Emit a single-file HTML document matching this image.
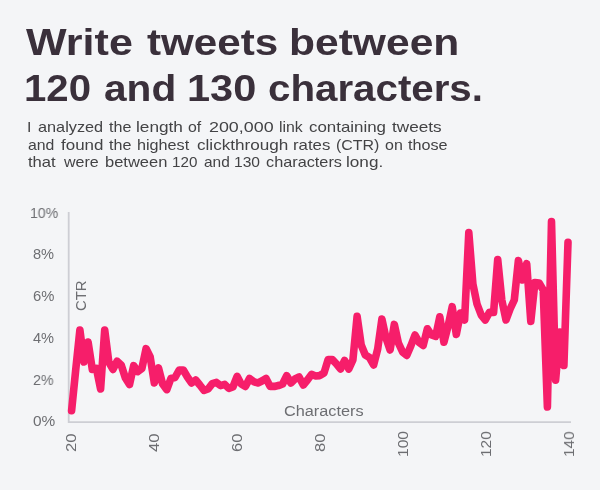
<!DOCTYPE html>
<html>
<head>
<meta charset="utf-8">
<title>Write tweets between 120 and 130 characters</title>
<style>
html,body{margin:0;padding:0;}
body{width:600px;height:490px;background:#f4f5f7;overflow:hidden;position:relative;font-family:"Liberation Sans",sans-serif;}
.t{position:absolute;white-space:nowrap;line-height:1;transform-origin:0 0;will-change:transform;}
.h{font-weight:bold;font-size:36px;color:#3a303b;}
.s{font-size:15px;color:#434345;}
.yl{color:#6d6e72;}
svg{position:absolute;left:0;top:0;}
</style>
</head>
<body>
<div class="t h" style="left:25.60px;top:25.13px;transform:scaleX(1.1955)">Write</div>
<div class="t h" style="left:146.60px;top:25.13px;transform:scaleX(1.1709)">tweets</div>
<div class="t h" style="left:289.04px;top:25.13px;transform:scaleX(1.1825)">between</div>
<div class="t h" style="left:24.17px;top:70.93px;transform:scaleX(1.1149)">120</div>
<div class="t h" style="left:104.07px;top:70.93px;transform:scaleX(1.1277)">and</div>
<div class="t h" style="left:186.89px;top:70.93px;transform:scaleX(1.1535)">130</div>
<div class="t h" style="left:268.28px;top:70.93px;transform:scaleX(1.1188)">characters.</div>
<div class="t s" style="left:27.29px;top:118.90px;transform:scaleX(1.0562)">I</div>
<div class="t s" style="left:37.60px;top:118.90px;transform:scaleX(1.0854)">analyzed</div>
<div class="t s" style="left:109.00px;top:118.90px;transform:scaleX(1.0727)">the</div>
<div class="t s" style="left:136.45px;top:118.90px;transform:scaleX(1.1486)">length</div>
<div class="t s" style="left:188.35px;top:118.90px;transform:scaleX(1.0562)">of</div>
<div class="t s" style="left:208.61px;top:118.90px;transform:scaleX(1.1910)">200,000</div>
<div class="t s" style="left:278.82px;top:118.90px;transform:scaleX(1.0562)">link</div>
<div class="t s" style="left:309.00px;top:118.90px;transform:scaleX(1.1257)">containing</div>
<div class="t s" style="left:392.00px;top:118.90px;transform:scaleX(1.1435)">tweets</div>
<div class="t s" style="left:28.40px;top:136.70px;transform:scaleX(1.0533)">and</div>
<div class="t s" style="left:61.00px;top:136.70px;transform:scaleX(1.1292)">found</div>
<div class="t s" style="left:109.00px;top:136.70px;transform:scaleX(1.0727)">the</div>
<div class="t s" style="left:136.52px;top:136.70px;transform:scaleX(1.0788)">highest</div>
<div class="t s" style="left:197.00px;top:136.70px;transform:scaleX(1.1418)">clickthrough</div>
<div class="t s" style="left:292.88px;top:136.70px;transform:scaleX(1.1178)">rates</div>
<div class="t s" style="left:335.60px;top:136.70px;transform:scaleX(1.0631)">(CTR)</div>
<div class="t s" style="left:385.00px;top:136.70px;transform:scaleX(1.0647)">on</div>
<div class="t s" style="left:408.40px;top:136.70px;transform:scaleX(1.0783)">those</div>
<div class="t s" style="left:28.40px;top:154.30px;transform:scaleX(1.1063)">that</div>
<div class="t s" style="left:64.07px;top:154.30px;transform:scaleX(1.0672)">were</div>
<div class="t s" style="left:105.00px;top:154.30px;transform:scaleX(1.0999)">between</div>
<div class="t s" style="left:172.48px;top:154.30px;transform:scaleX(1.0135)">120</div>
<div class="t s" style="left:203.60px;top:154.30px;transform:scaleX(1.0290)">and</div>
<div class="t s" style="left:233.96px;top:154.30px;transform:scaleX(1.0387)">130</div>
<div class="t s" style="left:265.60px;top:154.30px;transform:scaleX(1.0845)">characters</div>
<div class="t s" style="left:346.21px;top:154.30px;transform:scaleX(1.1429)">long.</div>

<div class="t yl" style="font-size:14.6px;left:29.73px;top:205.64px;transform:scaleX(0.9670)">10%</div>
<div class="t yl" style="font-size:14.6px;left:33.30px;top:247.34px;transform:scaleX(0.9992)">8%</div>
<div class="t yl" style="font-size:14.6px;left:33.30px;top:289.24px;transform:scaleX(1.0134)">6%</div>
<div class="t yl" style="font-size:14.6px;left:33.30px;top:330.94px;transform:scaleX(0.9992)">4%</div>
<div class="t yl" style="font-size:14.6px;left:33.30px;top:372.64px;transform:scaleX(0.9803)">2%</div>
<div class="t yl" style="font-size:14.6px;left:32.70px;top:414.44px;transform:scaleX(1.0561)">0%</div>
<div class="t yl" style="font-size:15.3px;left:284.20px;top:403.35px;transform:scaleX(1.0644)">Characters</div>
<div class="t yl" style="font-size:15.5px;left:63.43px;top:452.40px;transform:rotate(-90deg) scaleX(1.0783)">20</div>
<div class="t yl" style="font-size:15.5px;left:146.33px;top:452.40px;transform:rotate(-90deg) scaleX(1.0783)">40</div>
<div class="t yl" style="font-size:15.5px;left:229.23px;top:452.40px;transform:rotate(-90deg) scaleX(1.0669)">60</div>
<div class="t yl" style="font-size:15.5px;left:312.23px;top:452.40px;transform:rotate(-90deg) scaleX(1.0669)">80</div>
<div class="t yl" style="font-size:15.5px;left:395.03px;top:457.01px;transform:rotate(-90deg) scaleX(1.0063)">100</div>
<div class="t yl" style="font-size:15.5px;left:477.93px;top:457.00px;transform:rotate(-90deg) scaleX(0.9984)">120</div>
<div class="t yl" style="font-size:15.5px;left:560.93px;top:456.99px;transform:rotate(-90deg) scaleX(0.9905)">140</div>
<div class="t yl" style="font-size:14.8px;left:74.37px;top:311.20px;transform:rotate(-90deg) scaleX(1.0059)">CTR</div>

<svg width="600" height="490" viewBox="0 0 600 490">
  <path d="M68.7 212 V422.1 H571" fill="none" stroke="#cdced4" stroke-width="1.8"/>
  <polyline fill="none" stroke="#f61e6a" stroke-width="7.6" stroke-linejoin="round" stroke-linecap="round"
   points="71.6,410.6 75.7,370.0 79.9,330.0 84.0,362.0 88.1,342.0 92.3,369.4 96.4,368.4 100.6,389.0 104.7,330.0 108.8,362.0 113.0,369.4 117.1,361.2 121.2,365.0 125.4,378.0 129.5,384.6 133.7,365.6 137.8,371.6 141.9,368.4 146.1,348.6 150.2,357.0 154.3,383.0 158.5,368.0 162.6,384.0 166.8,389.6 170.9,378.5 175.0,377.5 179.2,370.0 183.3,370.0 187.4,377.0 191.6,383.0 195.7,380.0 199.8,385.0 204.0,390.4 208.1,389.0 212.3,383.6 216.4,382.4 220.5,385.6 224.7,384.4 228.8,388.4 232.9,387.0 237.1,376.4 241.2,384.0 245.4,386.4 249.5,378.4 253.6,381.6 257.8,383.0 261.9,381.0 266.0,378.4 270.2,386.4 274.3,386.4 278.4,385.6 282.6,384.0 286.7,375.6 290.9,383.0 295.0,379.0 299.1,377.0 303.3,385.0 307.4,380.0 311.5,374.4 315.7,376.0 319.8,375.6 324.0,373.0 328.1,359.6 332.2,359.5 336.4,363.8 340.5,369.0 344.6,360.4 348.8,369.0 352.9,360.0 357.1,316.4 361.2,345.0 365.3,355.0 369.5,357.6 373.6,365.0 377.7,349.0 381.9,319.0 386.0,338.0 390.1,350.0 394.3,324.4 398.4,343.0 402.6,352.0 406.7,355.4 410.8,346.0 415.0,335.0 419.1,342.4 423.2,345.4 427.4,328.8 431.5,335.0 435.7,336.4 439.8,316.8 443.9,342.2 448.1,326.0 452.2,306.7 456.3,334.4 460.5,313.0 464.6,320.0 468.8,232.5 472.9,284.0 477.0,304.0 481.2,315.0 485.3,320.0 489.4,312.4 493.6,312.4 497.7,259.5 501.8,300.0 506.0,320.0 510.1,309.0 514.3,300.0 518.4,260.5 522.5,280.0 526.7,263.7 530.8,321.4 534.9,282.6 539.1,283.0 543.2,290.0 547.4,407.0 551.5,221.5 555.6,380.2 559.8,332.0 563.9,365.5 568.0,242.4"/>
</svg>
</body>
</html>
